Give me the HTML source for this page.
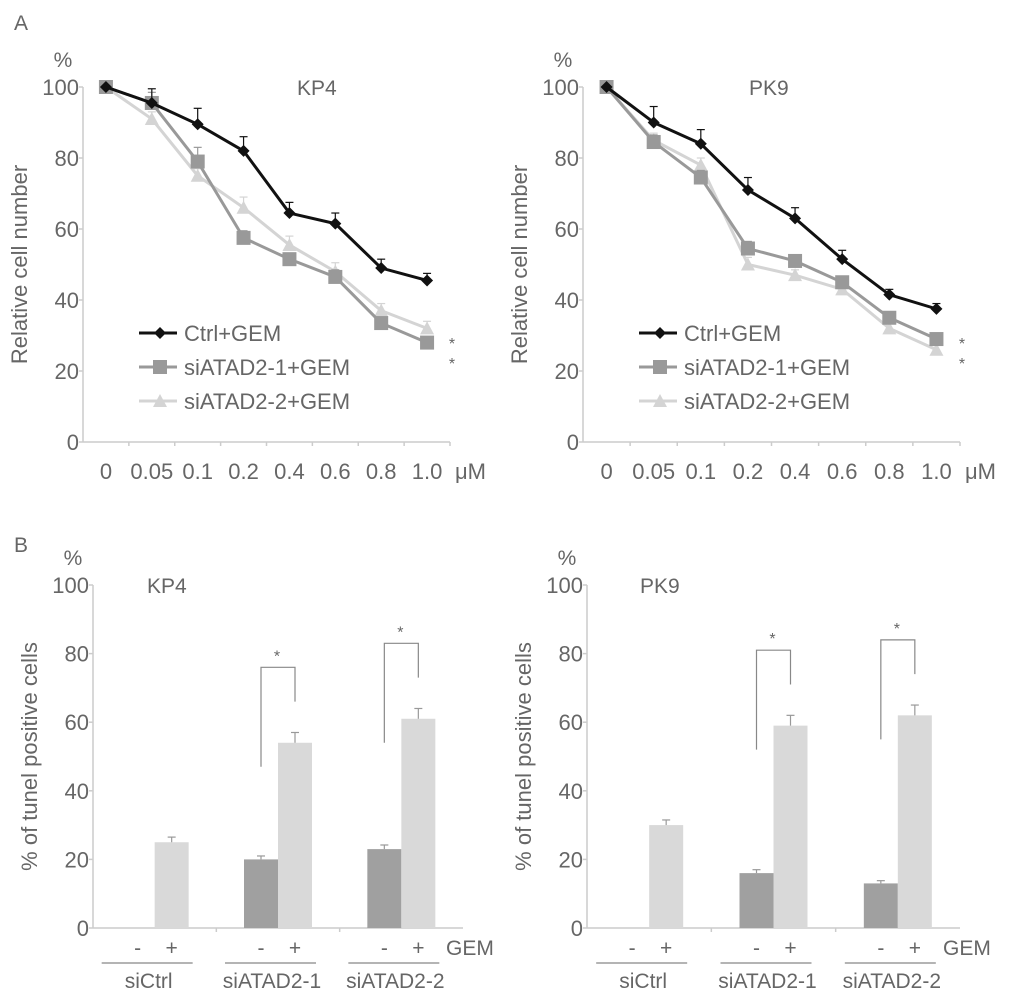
<!DOCTYPE html>
<html><head><meta charset="utf-8"><style>
body{margin:0;background:#fff}
svg{display:block;font-family:"Liberation Sans",sans-serif}
</style></head><body>
<svg id="fig" width="1033" height="1001" viewBox="0 0 1033 1001">
<text x="14" y="30" font-size="21" fill="#666">A</text>
<text x="14" y="552" font-size="21" fill="#666">B</text>
</svg>
<script>
const doseLabels=["0","0.05","0.1","0.2","0.4","0.6","0.8","1.0"];
const kp4Ctrl=[100,95.5,89.5,82,64.5,61.5,49,45.5];
const kp4Si1=[100,95.5,79,57.5,51.5,46.5,33.5,28];
const kp4Si2=[100,91,75,66,55.5,48,37,32];
const kp4CtrlErr=[0,4,4.5,4,3,3,2.5,2];
const kp4Si1Err=[0,3,4,2,1.5,2,1.5,1.5];
const kp4Si2Err=[0,2,2,3,2.5,2.5,2,2];
const pk9Ctrl=[100,90,84,71,63,51.5,41.5,37.5];
const pk9Si1=[100,84.5,74.5,54.5,51,45,35,29];
const pk9Si2=[100,85,78,50,47,43,32,26];
const pk9CtrlErr=[0,4.5,4,3.5,3,2.5,1.5,1.5];
const pk9Si1Err=[0,2,2,2,1.5,1.5,1.5,1.5];
const pk9Si2Err=[0,2,2,2,1.5,1.5,1.5,1.5];
const yTicks=[0,20,40,60,80,100];
const groupLabels=["siCtrl","siATAD2-1","siATAD2-2"];
const kp4Minus=[null,20,23];
const kp4Plus=[25,54,61];
const kp4MinusErr=[0,1,1.2];
const kp4PlusErr=[1.5,3,3];
const pk9Minus=[null,16,13];
const pk9Plus=[30,59,62];
const pk9MinusErr=[0,1,0.8];
const pk9PlusErr=[1.5,3,3];

const svg=document.getElementById('fig');
const NS='http://www.w3.org/2000/svg';
function mk(tag,attrs,parent){const e=document.createElementNS(NS,tag);for(const k in attrs)e.setAttribute(k,attrs[k]);(parent||svg).appendChild(e);return e;}
function txt(x,y,s,size,anchor,parent,fill){const t=mk('text',{x:x,y:y,'font-size':size,'text-anchor':anchor||'start',fill:fill||'#666'},parent);t.textContent=s;return t;}

function axes(g,x0,x1,yTop,yBot,ytitle,title,tx){
  const ys=v=>yBot-(yBot-yTop)*v/100;
  mk('line',{x1:x0,y1:yTop,x2:x0,y2:yBot,stroke:'#ccc','stroke-width':1.5},g);
  mk('line',{x1:x0,y1:yBot,x2:x1,y2:yBot,stroke:'#ccc','stroke-width':1.5},g);
  yTicks.forEach(v=>{
    mk('line',{x1:x0-4,y1:ys(v),x2:x0,y2:ys(v),stroke:'#ccc','stroke-width':1.5},g);
    const t=txt(x0-4,ys(v)+8,String(v),22,'end',g);
    
    
  });
  const p=txt(x0-20,yTop-20,'%',21,'middle',g);
  
  
  const yt=txt(0,0,ytitle,22,'middle',g);
  yt.setAttribute('transform','translate('+(x0-56)+','+((yTop+yBot)/2)+') rotate(-90)');
  
  
  const tt=txt(tx,yTop+8,title,21,'start',g);
  
  
  return ys;
}

function lineChart(name,x0,x1,title,tx,series,errs,stars){
  const g=mk('g',{});
  
  
  const yTop=87,yBot=442;
  const ys=axes(g,x0,x1,yTop,yBot,'Relative cell number',title,tx);
  const bw=(x1-x0)/doseLabels.length;
  const xs=i=>x0+bw*(i+0.5);
  for(let i=1;i<=doseLabels.length;i++)mk('line',{x1:x0+bw*i,y1:yBot,x2:x0+bw*i,y2:yBot+4,stroke:'#ccc','stroke-width':1.5},g);
  doseLabels.forEach((d,i)=>{const t=txt(xs(i),yBot+37,d,22,'middle',g);
    
    });
  const mu=txt(x1+5,yBot+37,'μM',22,'start',g);
  
  
  const styles=[{c:'#111',m:'d'},{c:'#999',m:'s'},{c:'#d4d4d4',m:'t'}];
  const names=['Ctrl+GEM','siATAD2-1+GEM','siATAD2-2+GEM'];
  [2,1,0].forEach(si=>{
    const vals=series[si],st=styles[si];
    const sg=mk('g',{},g);
    
    
    vals.forEach((v,i)=>{if(errs[si][i]>0){
      mk('line',{x1:xs(i),y1:ys(v),x2:xs(i),y2:ys(v+errs[si][i]),stroke:st.c,'stroke-width':1.2},sg);
      mk('line',{x1:xs(i)-4,y1:ys(v+errs[si][i]),x2:xs(i)+4,y2:ys(v+errs[si][i]),stroke:st.c,'stroke-width':1.2},sg);}});
    mk('polyline',{points:vals.map((v,i)=>xs(i)+','+ys(v)).join(' '),fill:'none',stroke:st.c,'stroke-width':3},sg);
    vals.forEach((v,i)=>marker(sg,xs(i),ys(v),st));
  });
  const lx=x0+56;
  names.forEach((n,i)=>{const y=333+i*34;
    const lg=mk('g',{},g);
    
    
    mk('line',{x1:lx,y1:y,x2:lx+38,y2:y,stroke:styles[i].c,'stroke-width':3},lg);
    marker(lg,lx+21,y,styles[i]);
    txt(lx+45,y+8,n,22,'start',lg);});
  stars.forEach(y=>{const s=txt(x1+2,y,'*',16,'middle',g);
    
    });
}
function marker(g,x,y,st){
  if(st.m==='d')mk('polygon',{points:`${x},${y-6} ${x+6},${y} ${x},${y+6} ${x-6},${y}`,fill:st.c},g);
  else if(st.m==='s')mk('rect',{x:x-7,y:y-7,width:14,height:14,fill:st.c},g);
  else mk('polygon',{points:`${x},${y-7} ${x+7},${y+6} ${x-7},${y+6}`,fill:st.c},g);
}

function barChart(name,x0,x1,title,tx,minus,plus,mErr,pErr){
  const g=mk('g',{});
  
  
  const yTop=585,yBot=928;
  const ys=axes(g,x0,x1,yTop,yBot,'% of tunel positive cells',title,tx);
  const gw=(x1-x0)/groupLabels.length,bw=34;
  for(let i=1;i<groupLabels.length;i++)mk('line',{x1:x0+gw*i,y1:yBot,x2:x0+gw*i,y2:yBot+4,stroke:'#ccc','stroke-width':1.5},g);
  groupLabels.forEach((lab,i)=>{
    const c=x0+gw*(i+0.5);
    [[minus[i],mErr[i],'#a0a0a0',c-bw,'minus'],[plus[i],pErr[i],'#d9d9d9',c,'plus']].forEach(([v,e,col,bx,kind])=>{
      if(v===null)return;
      const r=mk('rect',{x:bx,y:ys(v),width:bw,height:yBot-ys(v),fill:col},g);
      
      
      mk('line',{x1:bx+bw/2,y1:ys(v),x2:bx+bw/2,y2:ys(v+e),stroke:'#999','stroke-width':1.2},g);
      mk('line',{x1:bx+bw/2-4,y1:ys(v+e),x2:bx+bw/2+4,y2:ys(v+e),stroke:'#999','stroke-width':1.2},g);
    });
    txt(c-bw/2,yBot+27,'-',21,'middle',g);
    txt(c+bw/2,yBot+27,'+',21,'middle',g);
    mk('line',{x1:c-53,y1:yBot+35,x2:c+38,y2:yBot+35,stroke:'#888','stroke-width':1.2},g);
    const gl=txt(c-6,yBot+60,lab,21,'middle',g);
    
    
    if(minus[i]!==null){
      const bt=ys(plus[i]+22);
      mk('polyline',{points:`${c-bw/2},${ys(plus[i]-7)} ${c-bw/2},${bt} ${c+bw/2},${bt} ${c+bw/2},${ys(plus[i]+12)}`,fill:'none',stroke:'#888','stroke-width':1.2},g);
      const s=txt(c-1,bt-6,'*',16,'middle',g);
      
      
    }
  });
  txt(x1-17,yBot+27,'GEM',21,'start',g);
}

lineChart('kp4-viability-chart',83,450,'KP4',297,[kp4Ctrl,kp4Si1,kp4Si2],[kp4CtrlErr,kp4Si1Err,kp4Si2Err],[349,369]);
lineChart('pk9-viability-chart',583,960,'PK9',749,[pk9Ctrl,pk9Si1,pk9Si2],[pk9CtrlErr,pk9Si1Err,pk9Si2Err],[349,369]);
barChart('kp4-tunel-chart',93,463,'KP4',147,kp4Minus,kp4Plus,kp4MinusErr,kp4PlusErr);
barChart('pk9-tunel-chart',587,960,'PK9',640,pk9Minus,pk9Plus,pk9MinusErr,pk9PlusErr);
</script>
</body></html>
